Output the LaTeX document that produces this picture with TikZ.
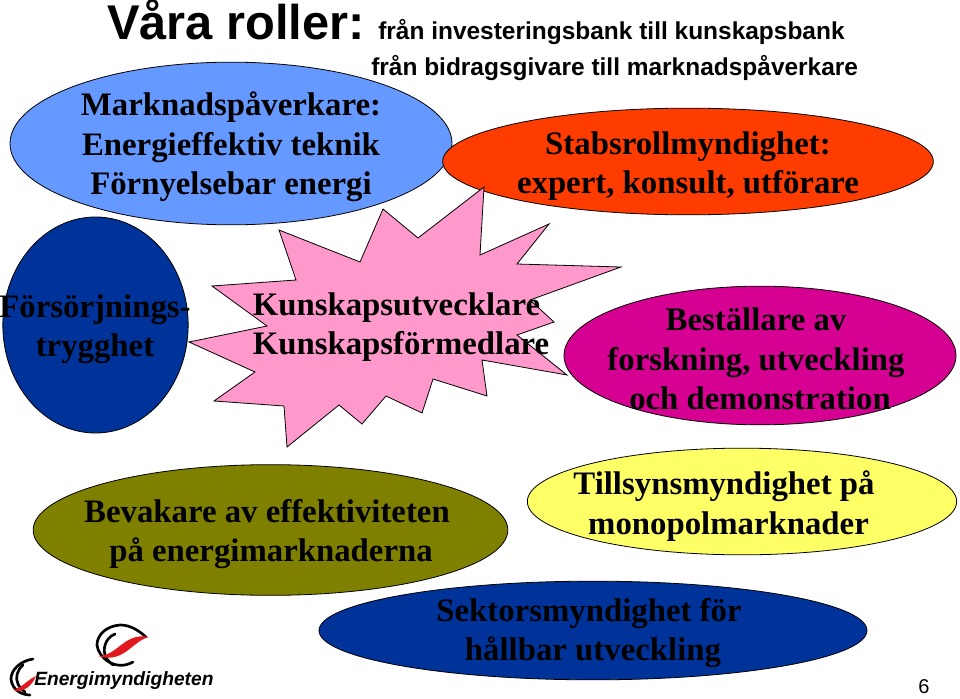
\documentclass[tikz,border=0pt]{standalone}
\usepackage{fontspec}
\setmainfont{Liberation Serif}
\setsansfont{Liberation Sans}
\usetikzlibrary{shapes.geometric}
\definecolor{cblue}{RGB}{102,153,255}
\definecolor{cred}{RGB}{255,60,0}
\definecolor{cnavy}{RGB}{0,51,153}
\definecolor{cmag}{RGB}{214,0,147}
\definecolor{colive}{RGB}{128,128,0}
\definecolor{cyel}{RGB}{255,255,102}
\definecolor{cpink}{RGB}{255,153,204}
\definecolor{lred}{RGB}{225,25,30}
\tikzset{x=0.75pt,y=-0.75pt,
 blob/.style={ellipse,draw=black,line width=0.6pt,inner sep=0pt,outer sep=0pt},
 lab/.style={font=\fontsize{24.6}{29.5}\selectfont\bfseries,align=center,text=black},
 sub/.style={font=\sffamily\bfseries\fontsize{18.35}{20}\selectfont,text=black,anchor=base west,inner sep=0pt},
 arcline/.style={draw=black,line width=2pt,line cap=round}}
\begin{document}
\begin{tikzpicture}
\useasboundingbox (0,0) rectangle (960,699);
\begin{scope}
\clip (0,0) rectangle (960,699);
\node[blob,fill=cblue,minimum width=331.5pt,minimum height=122pt] (market) at (231,143.5) {};
\node[blob,fill=cred,minimum width=368pt,minimum height=80pt] (stab) at (688,161.5) {};
\node[blob,fill=cnavy,minimum width=139pt,minimum height=162pt] (fors) at (95.5,325) {};
\node[blob,fill=cmag,minimum width=294pt,minimum height=104pt] (best) at (760,355.5) {};
\node[blob,fill=colive,minimum width=356pt,minimum height=98pt] (bev) at (270.5,530) {};
\node[blob,fill=cyel,minimum width=322pt,minimum height=80pt] (till) at (742,501.5) {};
\node[blob,fill=cnavy,minimum width=411pt,minimum height=74pt] (sekt) at (593,630.5) {};
\end{scope}
\draw[fill=cpink,draw=black,line width=0.6pt] (484,187) -- (480,255) -- (549,224) -- (517,264) -- (621,267) -- (530,300) -- (554,322) -- (517,335) -- (567,375) -- (482,360) -- (487,396) -- (433,379) -- (422,413) -- (386,396) -- (362,424) -- (339,405) -- (287,447) -- (284,406) -- (214,401) -- (255,372) -- (189,342) -- (267,326) -- (212,286) -- (296,280) -- (279,230) -- (360,262) -- (383,209) -- (418,238) -- cycle;
\node[sub] (t2) at (378,40) {från investeringsbank till kunskapsbank};
\node[sub] (t3) at (371,75) {från bidragsgivare till marknadspåverkare};
\node[font=\sffamily\bfseries\fontsize{36.6}{40}\selectfont,anchor=base west,inner sep=0pt] (t1) at (107,40) {Våra roller:};
\node[lab] (tm) at (231,147) {Marknadspåverkare:\\Energieffektiv teknik\\Förnyelsebar energi};
\node[lab] (ts) at (688,166) {Stabsrollmyndighet:\\expert, konsult, utförare};
\node[lab] (tf) at (95,329) {Försörjnings-\\trygghet};
\node[lab,align=left] (tk) at (401,327) {Kunskapsutvecklare\\Kunskapsförmedlare};
\node[lab] (tb) at (756,359) {Beställare av\\forskning, utveckling\\\hspace*{6pt}och demonstration};
\node[lab] (te) at (267,534) {Bevakare av effektiviteten\\\hspace*{6pt}på energimarknaderna};
\node[lab] (ty) at (724,506) {Tillsynsmyndighet på\\\hspace*{6.75pt}monopolmarknader};
\node[lab] (tv) at (589,633) {Sektorsmyndighet för\\\hspace*{6pt}hållbar utveckling};
\node[font=\sffamily\fontsize{15}{18}\selectfont] (pg) at (924,687) {6};
\draw[arcline] (146,637) .. controls (136,628) and (128,625) .. (120,625) .. controls (106,626) and (97,635) .. (97,645) .. controls (98,657) and (115,672) .. (133,662);
\draw[arcline] (115,634) .. controls (105,638) and (102,650) .. (106,657) .. controls (108,661) and (110,663) .. (113,665);
\fill[lred] (98,656) .. controls (118,656) and (124,632) .. (149,637) .. controls (132,641) and (124,664) .. (98,656) -- cycle;
\draw[arcline] (33,659) .. controls (20,661) and (11,670) .. (11,679) .. controls (12,690) and (22,695) .. (30,695);
\draw[arcline] (23,665) .. controls (17,670) and (15,678) .. (18,684) .. controls (20,688) and (22,690) .. (25,692);
\fill[lred] (13,690) .. controls (22,688) and (27,680) .. (36,676) .. controls (33,684) and (24,694) .. (13,690) -- cycle;
\node[font=\sffamily\bfseries\itshape\fontsize{14.4}{16}\selectfont,anchor=west,inner sep=0pt] (lg) at (34,681) {Energimyndigheten};
\end{tikzpicture}
\end{document}
